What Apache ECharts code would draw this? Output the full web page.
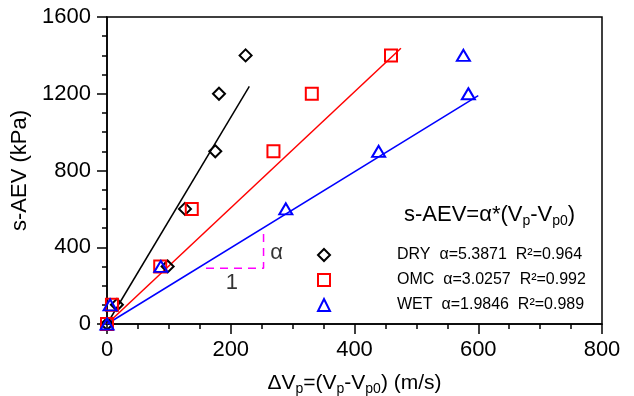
<!DOCTYPE html>
<html>
<head>
<meta charset="utf-8">
<script src="https://cdn.jsdelivr.net/npm/echarts@6/dist/echarts.min.js"></script>
<style>
  html, body { margin: 0; padding: 0; background: #fff; }
  #chart { width: 634px; height: 396px; }
</style>
</head>
<body>
<div id="chart"></div>
<script>
// Measured points: velocity change (m/s) vs. suction air-entry value (kPa)
const dryDv = [0, 16, 98, 126, 175, 181, 224];
const dryAev = [0, 100, 300, 600, 900, 1200, 1400];
const omcDv = [0, 8, 86, 137, 269, 331, 459];
const omcAev = [0, 100, 300, 600, 900, 1200, 1400];
const wetDv = [0, 5, 87, 289, 439, 584, 576];
const wetAev = [0, 100, 300, 600, 900, 1200, 1400];

// Fitted slopes and goodness of fit
const seriesNames = ['DRY', 'OMC', 'WET'];
const alphas = [5.3871, 3.0257, 1.9846];
const r2 = ['0.964', '0.992', '0.989'];
const fitEndDv = [230, 475, 600];

// Slope key (run of 1, rise of alpha)
const keyDv = [160, 253, 253];
const keyAev = [290, 290, 500];

// Axis ticks
const xTicks = [0, 200, 400, 600, 800];
const yTicks = [0, 400, 800, 1200, 1600];

const colors = ['#000000', '#ff0000', '#0000ff'];
const symbols = ['diamond', 'rect', 'triangle'];
const symbolSizes = [[12, 12], [12, 12], [13, 11]];
const font = '"Liberation Sans", Arial, sans-serif';

const pts = [[dryDv, dryAev], [omcDv, omcAev], [wetDv, wetAev]];

const series = [];
// fit lines through the origin with slope alpha
seriesNames.forEach((n, i) => {
  series.push({
    name: n + ' fit',
    type: 'line',
    data: [[0, 0], [fitEndDv[i], alphas[i] * fitEndDv[i]]],
    showSymbol: false,
    symbol: 'none',
    lineStyle: { color: colors[i], width: 1.5 },
    z: 2,
    silent: true
  });
});
// slope key
series.push({
  name: 'key',
  type: 'line',
  data: keyDv.map((v, i) => [v, keyAev[i]]),
  symbol: 'none',
  lineStyle: { color: '#ff00ff', width: 1.5, type: [8, 6] },
  z: 2,
  silent: true
});
series.push({
  name: 'key labels',
  type: 'scatter',
  symbolSize: 0,
  data: [
    { value: [274, 368], label: { formatter: 'α' } },
    { value: [202, 212], label: { formatter: '1' } }
  ],
  label: { show: true, position: 'inside', color: '#000', fontSize: 22, fontFamily: font },
  z: 3,
  silent: true
});
// measured points
seriesNames.forEach((n, i) => {
  series.push({
    name: n,
    type: 'scatter',
    data: pts[i][0].map((v, k) => [v, pts[i][1][k]]),
    symbol: symbols[i],
    symbolSize: symbolSizes[i],
    itemStyle: { color: 'rgba(255,255,255,0)', borderColor: colors[i], borderWidth: 2, opacity: 1 },
    z: 5
  });
});

const legendText = {};
seriesNames.forEach((n, i) => {
  legendText[n] = n + '  α=' + alphas[i].toFixed(4) + '  R²=' + r2[i];
});

const chart = echarts.init(document.getElementById('chart'), null, { renderer: 'canvas' });
chart.setOption({
  animation: false,
  backgroundColor: '#ffffff',
  title: {
    text: 's-AEV=α*(V{sub|p}-V{sub|p0})',
    left: 399,
    top: 196,
    textStyle: {
      fontFamily: font, fontSize: 22, fontWeight: 'normal', color: '#000',
      rich: { sub: { fontSize: 14, fontFamily: font, verticalAlign: 'bottom', padding: [13, 0, 0, 0] } }
    }
  },
  legend: {
    data: seriesNames,
    orient: 'vertical',
    left: 312,
    top: 242,
    itemWidth: 12,
    itemHeight: 12,
    itemGap: 9,
    formatter: n => legendText[n],
    textStyle: { fontFamily: font, fontSize: 16, color: '#000', padding: [0, 0, 0, 62] },
    selectedMode: false
  },
  grid: {
    left: 107, right: 32, top: 17, bottom: 72,
    outerBoundsMode: 'none',
    containLabel: false,
    show: true, borderColor: '#000', borderWidth: 1.5, backgroundColor: 'transparent'
  },
  xAxis: {
    type: 'value',
    min: xTicks[0], max: xTicks[xTicks.length - 1], interval: xTicks[1] - xTicks[0],
    name: 'ΔV{sub|p}=(V{sub|p}-V{sub|p0}) (m/s)',
    nameLocation: 'middle',
    nameGap: 46,
    nameTextStyle: {
      fontFamily: font, fontSize: 21, color: '#000',
      rich: { sub: { fontSize: 14, fontFamily: font, verticalAlign: 'bottom', padding: [12, 0, 0, 0] } }
    },
    axisLine: { lineStyle: { color: '#000', width: 1.5 } },
    axisTick: { length: 10, lineStyle: { color: '#000', width: 1.5 } },
    minorTick: { show: true, splitNumber: 4, length: 5, lineStyle: { color: '#000', width: 1.5 } },
    splitLine: { show: false },
    axisLabel: { fontFamily: font, fontSize: 22, color: '#000', margin: 15, formatter: v => String(v) }
  },
  yAxis: {
    type: 'value',
    min: yTicks[0], max: yTicks[yTicks.length - 1], interval: yTicks[1] - yTicks[0],
    name: 's-AEV (kPa)',
    nameLocation: 'middle',
    nameGap: 72,
    nameTextStyle: { fontFamily: font, fontSize: 22, color: '#000' },
    axisLine: { lineStyle: { color: '#000', width: 1.5 } },
    axisTick: { length: 10, lineStyle: { color: '#000', width: 1.5 } },
    minorTick: { show: true, splitNumber: 4, length: 5, lineStyle: { color: '#000', width: 1.5 } },
    splitLine: { show: false },
    axisLabel: { fontFamily: font, fontSize: 22, color: '#000', margin: 16, formatter: v => String(v) }
  },
  series: series
});
</script>
</body>
</html>
